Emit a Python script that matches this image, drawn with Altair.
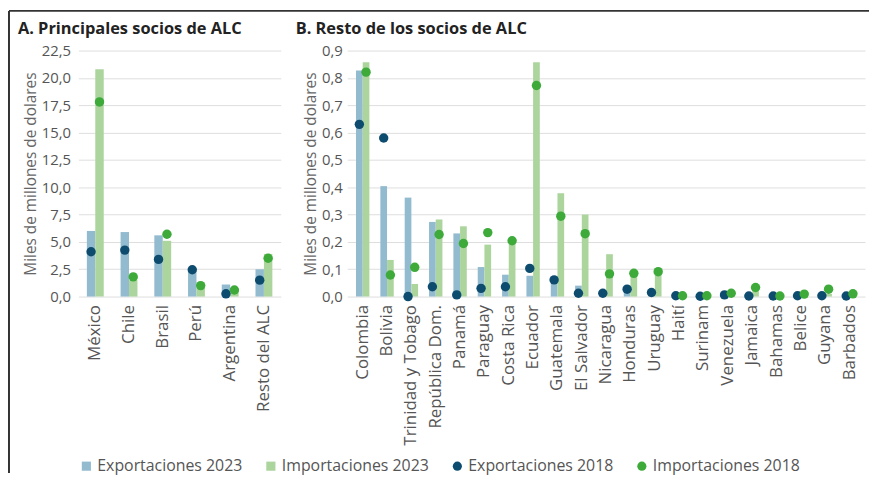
import altair as alt
import pandas as pd

# ---------------- Data ----------------
series_domain = ["Exportaciones 2023", "Importaciones 2023", "Exportaciones 2018", "Importaciones 2018"]
series_colors = ["#93bbd0", "#abd59c", "#0e4c6f", "#3daa3a"]
series_shapes = ["square", "square", "circle", "circle"]

a_countries = ["México", "Chile", "Brasil", "Perú", "Argentina", "Resto del ALC"]
a_exp_2023 = [6.0, 5.9, 5.6, 2.6, 1.1, 2.5]
a_imp_2023 = [20.8, 1.5, 5.1, 0.8, 0.6, 3.9]
a_exp_2018 = [4.1, 4.25, 3.4, 2.45, 0.25, 1.5]
a_imp_2018 = [17.8, 1.8, 5.7, 1.0, 0.6, 3.5]
a_ticks = [0, 2.5, 5, 7.5, 10, 12.5, 15, 17.5, 20, 22.5]

b_countries = ["Colombia", "Bolivia", "Trinidad y Tobago", "República Dom.", "Panamá",
               "Paraguay", "Costa Rica", "Ecuador", "Guatemala", "El Salvador",
               "Nicaragua", "Honduras", "Uruguay", "Haití", "Surinam", "Venezuela",
               "Jamaica", "Bahamas", "Belice", "Guyana", "Barbados"]
b_exp_2023 = [0.827, 0.404, 0.362, 0.273, 0.231, 0.108, 0.080, 0.076, 0.050, 0.040,
              0.010, 0.022, 0.010, 0.002, 0.001, 0.004, 0.002, 0.001, 0.002, 0.002, 0.001]
b_imp_2023 = [0.857, 0.134, 0.046, 0.282, 0.257, 0.190, 0.200, 0.857, 0.378, 0.300,
              0.155, 0.085, 0.093, 0.002, 0.002, 0.008, 0.020, 0.001, 0.005, 0.010, 0.005]
b_exp_2018 = [0.630, 0.580, 0.000, 0.036, 0.006, 0.030, 0.036, 0.103, 0.061, 0.012,
              0.012, 0.027, 0.015, 0.003, 0.001, 0.006, 0.002, 0.002, 0.003, 0.003, 0.002]
b_imp_2018 = [0.821, 0.079, 0.107, 0.227, 0.194, 0.234, 0.204, 0.772, 0.294, 0.230,
              0.083, 0.085, 0.091, 0.003, 0.003, 0.012, 0.033, 0.002, 0.009, 0.027, 0.010]
b_ticks = [0, 0.1, 0.2, 0.3, 0.4, 0.5, 0.6, 0.7, 0.8, 0.9]

y_title = "Miles de millones de dolares"
title_a = "A. Principales socios de ALC"
title_b = "B. Resto de los socios de ALC"

FONT = "Open Sans"


def make_df(countries, e23, i23, e18, i18):
    rows = []
    for i, c in enumerate(countries):
        rows.append(dict(pais=c, flujo="Exportaciones", anio=2023, serie=series_domain[0], valor=e23[i]))
        rows.append(dict(pais=c, flujo="Importaciones", anio=2023, serie=series_domain[1], valor=i23[i]))
        rows.append(dict(pais=c, flujo="Exportaciones", anio=2018, serie=series_domain[2], valor=e18[i]))
        rows.append(dict(pais=c, flujo="Importaciones", anio=2018, serie=series_domain[3], valor=i18[i]))
    return pd.DataFrame(rows)


legend = alt.Legend(title=None, orient="none", legendX=0, legendY=411, direction="horizontal",
                    columns=4, columnPadding=20, labelFontSize=16, labelFont=FONT,
                    labelColor="#555", symbolSize=85, symbolStrokeWidth=0, padding=0,
                    labelOffset=3)
color = alt.Color("serie:N", scale=alt.Scale(domain=series_domain, range=series_colors), legend=legend)
shape = alt.Shape("serie:N", scale=alt.Scale(domain=series_domain, range=series_shapes), legend=legend)


def panel(df, countries, ymax, ticks, title, title_dx, width, pad_inner, pad_outer, label_pad, border=False):
    base = alt.Chart(df)
    x = alt.X("pais:N", sort=countries,
              scale=alt.Scale(paddingInner=pad_inner, paddingOuter=pad_outer),
              axis=alt.Axis(title=None, labelAngle=-90, labelAlign="right", labelBaseline="middle",
                            labelPadding=8, ticks=False, domain=False, labelFontSize=17,
                            labelFont=FONT, labelColor="#555", labelLimit=200))
    xo = alt.XOffset("flujo:N", sort=["Exportaciones", "Importaciones"],
                     scale=alt.Scale(domain=["Exportaciones", "Importaciones"], paddingInner=0, paddingOuter=0))
    y = alt.Y("valor:Q", scale=alt.Scale(domain=[0, ymax], nice=False, zero=True),
              axis=alt.Axis(title=y_title, values=ticks, ticks=False, domain=False,
                            labelExpr="replace(format(datum.value, '.1f'), '.', ',')",
                            labelFontSize=15, labelFont=FONT, labelColor="#555", labelPadding=label_pad,
                            titleFontSize=15.5, titleFont=FONT, titleColor="#666", titleFontWeight="normal",
                            titlePadding=3, gridColor="#dedede", gridWidth=1))
    one = pd.DataFrame({"k": [0]})
    ttl = alt.Chart(one).mark_text(align="left", baseline="alphabetic", fontSize=16.5, fontWeight="bold",
                                   font=FONT, color="#222").encode(
        x=alt.value(title_dx), y=alt.value(-17), text=alt.value(title))
    bars = base.transform_filter("datum.anio == 2023").mark_bar().encode(
        x=x, xOffset=xo, y=y, color=color)
    dots = base.transform_filter("datum.anio == 2018").mark_point(filled=True, size=90, opacity=1).encode(
        x=x, xOffset=xo, y=y, color=color, shape=shape)
    layers = [ttl, bars, dots]
    if border:
        left = alt.Chart(one).mark_rule(color="#333", strokeWidth=2).encode(
            x=alt.value(-70), y=alt.value(-40), y2=alt.value(426))
        top = alt.Chart(one).mark_rule(color="#333", strokeWidth=2).encode(
            x=alt.value(-70), x2=alt.value(797), y=alt.value(-40))
        layers = [left, top] + layers
    return alt.layer(*layers).properties(width=width, height=248)


df_a = make_df(a_countries, a_exp_2023, a_imp_2023, a_exp_2018, a_imp_2018)
df_b = make_df(b_countries, b_exp_2023, b_imp_2023, b_exp_2018, b_imp_2018)

pa = panel(df_a, a_countries, 22.5, a_ticks, title_a, -61, 204, 0.5, 0.25, 8, border=True)
pb = panel(df_b, b_countries, 0.9, b_ticks, title_b, -52, 522, 0.45, 0.36, 5)

chart = alt.hconcat(pa, pb, spacing=67, bounds="flush").resolve_scale(
    y="independent", x="independent", xOffset="independent", color="shared", shape="shared"
).properties(padding=0).configure_view(stroke=None)

chart.save("out.html", embed_options={"renderer": "svg", "actions": False})
